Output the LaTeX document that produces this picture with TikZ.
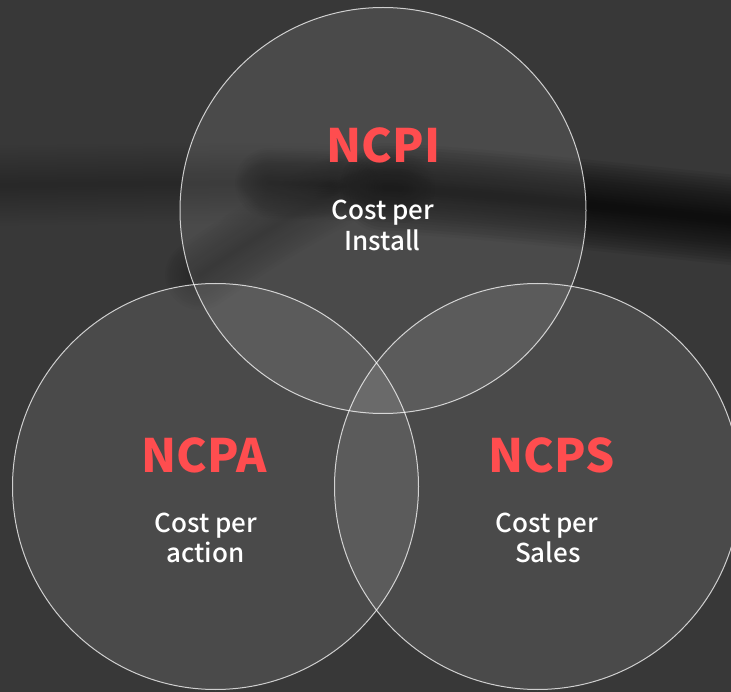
\documentclass[tikz,border=0pt]{standalone}
\usepackage{fontspec}
\newfontfamily\labelfont{Noto Sans CJK KR}
\newfontfamily\captionfont{Noto Sans CJK KR Medium}
\definecolor{bg}{HTML}{383838}
\definecolor{accent}{HTML}{FF4D4F}
% soft dark stroke: 16 stacked translucent strokes up to a given width
\newcommand\softline[3]{%
  \foreach \i in {1,...,16}{%
    \draw[black, line width=\i*#2/16*1pt, draw opacity=#1, line cap=round] #3;}}
\begin{document}
\begin{tikzpicture}[x=1pt,y=-1pt,
  venn/.style={circle, minimum size=406pt, inner sep=0pt, fill=white, fill opacity=0.095},
  rim/.style={draw=white, draw opacity=0.75, line width=1pt},
  title/.style={anchor=base, inner sep=0pt, text=accent,
    font=\labelfont\bfseries\fontsize{46}{46}\selectfont},
  caption/.style={anchor=base, inner sep=0pt, text=white,
    font=\captionfont\fontsize{26}{26}\selectfont}]
  \useasboundingbox (0,0) rectangle (731,692);
  \clip (0,0) rectangle (731,692);
  \fill[bg] (0,0) rectangle (731,692);

  % background streak
  \softline{0.007}{80}{(-40,186) .. controls (120,184) and (240,182) .. (330,184)}
  \softline{0.018}{70}{(345,187) .. controls (300,210) and (250,240) .. (200,275)}
  \softline{0.03}{70}{(270,183) .. controls (320,184) and (360,186) .. (400,188)}
  \softline{0.065}{90}{(385,188) .. controls (470,192) and (600,206) .. (790,226)}

  % circles
  \node[venn] (install) at (383,210.5) {};
  \node[venn] (action)  at (215.5,486.5) {};
  \node[venn] (sales)   at (537.5,486.5) {};
  \foreach \c in {install,action,sales}
    \draw[rim] (\c.center) circle[radius=203pt];

  % labels
  \node[title]   (tI)  at (383.5,163) {NCPI};
  \node[caption] (cI1) at (383,219.5) {Cost per};
  \node[caption] (cI2) at (382.5,250.5) {Install};

  \node[title]   (tA)  at (204,472) {NCPA};
  \node[caption] (cA1) at (206,532) {Cost per};
  \node[caption] (cA2) at (205.5,562) {action};

  \node[title]   (tS)  at (551.5,472) {NCPS};
  \node[caption] (cS1) at (547,532) {Cost per};
  \node[caption] (cS2) at (548,562) {Sales};
\end{tikzpicture}
\end{document}
